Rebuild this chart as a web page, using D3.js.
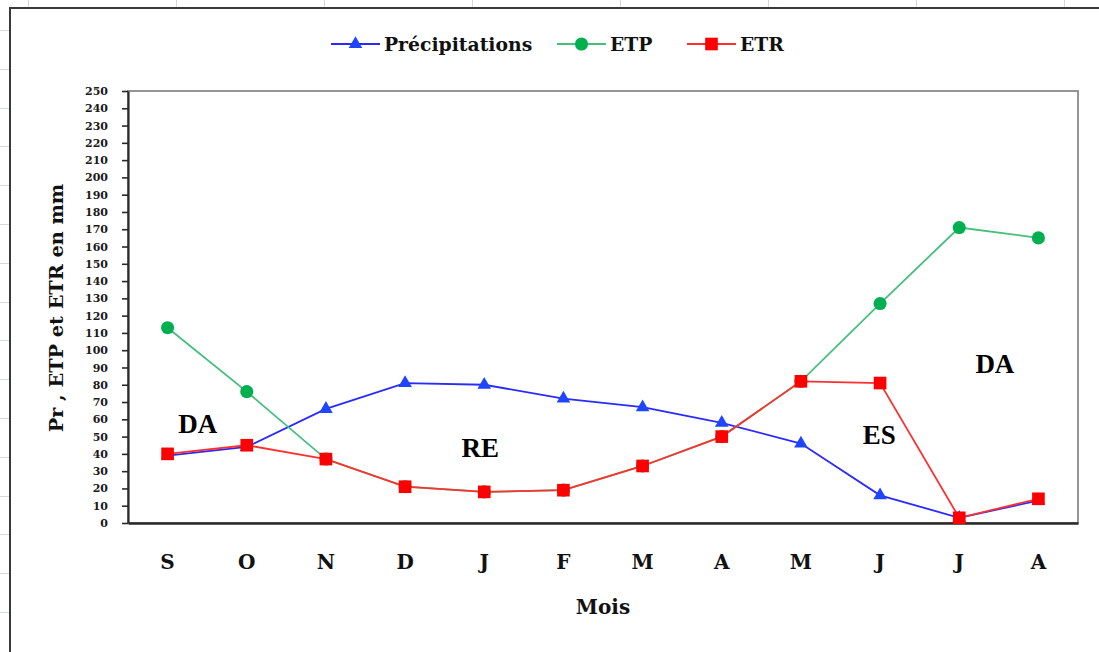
<!DOCTYPE html>
<html>
<head>
<meta charset="utf-8">
<script src="https://cdn.jsdelivr.net/npm/d3@7"></script>
<style>
  html, body { margin: 0; padding: 0; background: #fff; }
  svg { display: block; }
</style>
</head>
<body>
<svg id="chart" width="1099" height="652"></svg>
<script>
// ---- Data ----
const months = ["S", "O", "N", "D", "J", "F", "M", "A", "M", "J", "J", "A"];
const precipitations = [39, 44, 66, 81, 80, 72, 67, 58, 46, 16, 3, 13];
const etp = [113, 76, 37, 21, 18, 19, 33, 50, 82, 127, 171, 165];
const etr = [40, 45, 37, 21, 18, 19, 33, 50, 82, 81, 3, 14];
const yTicks = d3.range(0, 251, 10);
const seriesNames = ["Précipitations", "ETP", "ETR"];
const zones = [
  { label: "DA", month: 0.38, value: 52 },
  { label: "RE", month: 3.95, value: 38 },
  { label: "ES", month: 8.99, value: 46 },
  { label: "DA", month: 10.45, value: 87 }
];

// ---- Layout ----
const svg = d3.select("#chart");
const W = 1099, H = 652;
const plot = { left: 128, top: 91, right: 1078, bottom: 523 };

// spreadsheet background gridlines
const grid = svg.append("g").attr("stroke", "#d3d8ec").attr("stroke-width", 1);
d3.range(28, W, 148).forEach(x => grid.append("line").attr("x1", x + 0.5).attr("x2", x + 0.5).attr("y1", 0).attr("y2", 8));
d3.range(0, 16).forEach(k => { const y = Math.round(30 + 38.8 * k) + 0.5; grid.append("line").attr("x1", 0).attr("x2", 10).attr("y1", y).attr("y2", y); });

// chart area border
svg.append("rect").attr("x", 10).attr("y", 8).attr("width", W + 20).attr("height", H + 20)
  .attr("fill", "#fff").attr("stroke", "#3a3a3a").attr("stroke-width", 2);

const x = d3.scaleBand().domain(d3.range(months.length)).range([plot.left, plot.right]);
const xc = i => x(i) + x.bandwidth() / 2;
const xcf = f => plot.left + (f + 0.5) * x.bandwidth();
const y = d3.scaleLinear().domain([0, 250]).range([plot.bottom, plot.top]);

// plot frame (top/right gray)
svg.append("rect").attr("x", plot.left).attr("y", plot.top)
  .attr("width", plot.right - plot.left).attr("height", plot.bottom - plot.top)
  .attr("fill", "#fff").attr("stroke", "#8a8a8a").attr("stroke-width", 1.8);

// y axis
const yAxis = svg.append("g").attr("transform", `translate(${plot.left},0)`)
  .call(d3.axisLeft(y).tickValues(yTicks).tickSize(6).tickPadding(14).tickSizeOuter(0));
yAxis.select(".domain").attr("stroke", "#2a2a2a").attr("stroke-width", 2.2);
yAxis.selectAll(".tick line").attr("stroke", "#2a2a2a").attr("stroke-width", 1.6);
yAxis.selectAll(".tick text").attr("font-family", "DejaVu Serif").attr("font-weight", "bold")
  .attr("font-size", 11).attr("fill", "#1a1a1a");

// x axis
const xAxis = svg.append("g").attr("transform", `translate(0,${plot.bottom})`)
  .call(d3.axisBottom(x).tickFormat(i => months[i]).tickSize(0).tickPadding(32));
xAxis.select(".domain").attr("stroke", "#2a2a2a").attr("stroke-width", 2.5);
xAxis.selectAll(".tick text").attr("font-family", "DejaVu Serif").attr("font-weight", "bold")
  .attr("font-size", 20).attr("fill", "#111");

// axis titles
svg.append("text").attr("x", (plot.left + plot.right) / 2 + 0).attr("y", 614)
  .attr("text-anchor", "middle").attr("font-family", "DejaVu Serif").attr("font-weight", "bold")
  .attr("font-size", 20).attr("fill", "#111").text("Mois");
svg.append("text").attr("transform", "translate(63,308) rotate(-90)")
  .attr("text-anchor", "middle").attr("font-family", "DejaVu Serif").attr("font-weight", "bold")
  .attr("font-size", 19.3).attr("fill", "#111").text("Pr , ETP et ETR en mm");

// ---- series ----
const line = d3.line().x((d, i) => xc(i)).y(d => y(d));
const styles = [
  { data: precipitations, line: "#2a2aff", fill: "#1f45ff", shape: d3.symbolTriangle, size: 80 },
  { data: etp, line: "#44c07c", fill: "#00b050", shape: d3.symbolCircle, size: 135 },
  { data: etr, line: "#ff3030", fill: "#ff0000", shape: d3.symbolSquare, size: 160 }
];
styles.forEach(s => {
  svg.append("path").datum(s.data).attr("d", line).attr("fill", "none")
    .attr("stroke", s.line).attr("stroke-width", 1.8);
  svg.append("g").selectAll("path").data(s.data).join("path")
    .attr("transform", (d, i) => `translate(${xc(i)},${y(d)})`)
    .attr("d", d3.symbol().type(s.shape).size(s.size))
    .attr("fill", s.fill);
});

// zone labels
svg.append("g").selectAll("text").data(zones).join("text")
  .attr("x", d => xcf(d.month)).attr("y", d => y(d.value))
  .attr("text-anchor", "middle").attr("font-family", "Liberation Serif").attr("font-weight", "bold")
  .attr("font-size", 27).attr("fill", "#000").text(d => d.label);

// ---- legend ----
const legendX = [331, 557, 687];
const lg = svg.append("g");
styles.forEach((s, k) => {
  const x0 = legendX[k];
  lg.append("line").attr("x1", x0).attr("x2", x0 + 49).attr("y1", 44).attr("y2", 44)
    .attr("stroke", s.line).attr("stroke-width", 1.8);
  lg.append("path").attr("transform", `translate(${x0 + 24.5},44)`)
    .attr("d", d3.symbol().type(s.shape).size(s.size)).attr("fill", s.fill);
  lg.append("text").attr("x", x0 + 53).attr("y", 51).attr("font-family", "DejaVu Serif")
    .attr("font-weight", "bold").attr("font-size", 18.8).attr("fill", "#111").text(seriesNames[k]);
});
</script>
</body>
</html>
